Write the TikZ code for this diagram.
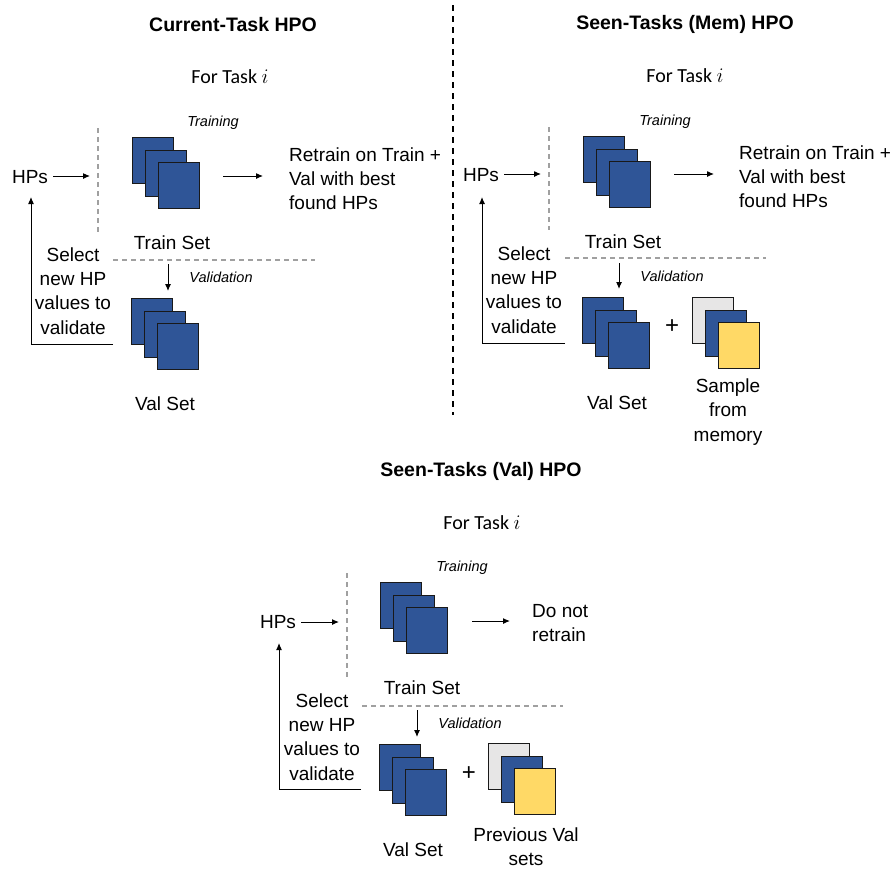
\documentclass[tikz,border=0pt]{standalone}
\usepackage{fontspec}
\setmainfont{Liberation Sans}
\newfontfamily\narrowfont{Carlito}
\usetikzlibrary{arrows.meta,calc}
\definecolor{boxblue}{HTML}{2F5597}
\definecolor{boxgray}{HTML}{E7E6E6}
\definecolor{boxyellow}{HTML}{FFD966}
\definecolor{dashgray}{HTML}{A0A0A0}
\newcommand{\mystack}[6]{%
  \node[sq, fill=#4, anchor=north west] (#1a) at (#2,#3) {};
  \node[sq, fill=#5, anchor=north west] (#1b) at ($(#2,#3)+(13,13)$) {};
  \node[sq, fill=#6, anchor=north west] (#1c) at ($(#2,#3)+(26,25)$) {};
}
\begin{document}
\begin{tikzpicture}[x=1pt,y=-1pt,
  sq/.style={draw=black!90, line width=1pt, minimum width=41.5pt, minimum height=46pt, inner sep=0pt, outer sep=0pt},
  txt/.style={font=\fontsize{19}{24.3}\selectfont, align=center, inner sep=0pt},
  ltxt/.style={font=\fontsize{19}{24}\selectfont, align=left, inner sep=0pt, anchor=west},
  ttl/.style={font=\fontsize{19.5}{22}\selectfont\bfseries, inner sep=0pt},
  fortask/.style={font=\narrowfont\fontsize{20}{22}\selectfont, inner sep=0pt},
  lbl/.style={font=\fontsize{14.5}{16}\selectfont\itshape, inner sep=0pt},
  plus/.style={font=\fontsize{24}{24}\selectfont, inner sep=0pt},
  arr/.style={-{Latex[length=7pt,width=6pt]}, line width=1pt, black},
  gdash/.style={dashgray, line width=1.2pt, dash pattern=on 5pt off 4pt},
  bdash/.style={black, line width=1.3pt, dash pattern=on 6pt off 5pt}
]
\useasboundingbox (0,0) rectangle (893,871);

% separator
\coordinate (sepT) at (453,5);
\coordinate (sepB) at (453,415);
\draw[bdash] (sepT) -- (sepB);

%%%%%%%% Panel 1
\node[ttl] (t1) at (233,25) {Current-Task HPO};
\node[fortask] (f1) at (230,77) {For Task $i$};
\node[txt] (hp1) at (30,177) {HPs};
\coordinate (hp1e) at (90,176);
\draw[arr, shorten <=5pt] (hp1.east |- hp1e) -- (hp1e);
\coordinate (dv1t) at (98,128);
\coordinate (dv1b) at (98,232);
\draw[gdash] (dv1t) -- (dv1b);
\node[lbl] (tr1) at (213,123) {Training};
\mystack{ts1}{132}{137}{boxblue}{boxblue}{boxblue}
\coordinate (ra1s) at (223,176);
\coordinate (ra1e) at (263,176);
\draw[arr] (ra1s) -- (ra1e);
\node[ltxt] (rt1) at (289,179) {Retrain on Train +\\Val with best\\found HPs};
\node[txt] (tsl1) at (172,243) {Train Set};
\coordinate (dh1l) at (113,260);
\coordinate (dh1r) at (315,260);
\draw[gdash] (dh1l) -- (dh1r);
\coordinate (va1s) at (168,264);
\coordinate (va1e) at (168,291);
\draw[arr] (va1s) -- (va1e);
\node[lbl] (vl1) at (221,277) {Validation};
\node[txt] (sel1) at (73,291) {Select\\new HP\\values to\\validate};
\mystack{vs1}{131}{298}{boxblue}{boxblue}{boxblue}
\coordinate (fb1a) at (113,344);
\coordinate (fb1b) at (31,344);
\coordinate (fb1c) at (31,197);
\draw[arr] (fb1a) -- (fb1b) -- (fb1c);
\node[txt] (vsl1) at (165,404) {Val Set};

%%%%%%%% Panel 2
\node[ttl] (t2) at (685,24) {Seen-Tasks (Mem) HPO};
\node[fortask] (f2) at (685,76) {For Task $i$};
\node[txt] (hp2) at (481,175) {HPs};
\coordinate (hp2e) at (541,174);
\draw[arr, shorten <=5pt] (hp2.east |- hp2e) -- (hp2e);
\coordinate (dv2t) at (549,127);
\coordinate (dv2b) at (549,230);
\draw[gdash] (dv2t) -- (dv2b);
\node[lbl] (tr2) at (665,122) {Training};
\mystack{ts2}{583}{136}{boxblue}{boxblue}{boxblue}
\coordinate (ra2s) at (674,174);
\coordinate (ra2e) at (714,174);
\draw[arr] (ra2s) -- (ra2e);
\node[ltxt] (rt2) at (739,177) {Retrain on Train +\\Val with best\\found HPs};
\node[txt] (tsl2) at (623,242) {Train Set};
\coordinate (dh2l) at (565,258);
\coordinate (dh2r) at (766,258);
\draw[gdash] (dh2l) -- (dh2r);
\coordinate (va2s) at (619,263);
\coordinate (va2e) at (619,289);
\draw[arr] (va2s) -- (va2e);
\node[lbl] (vl2) at (672,276) {Validation};
\node[txt] (sel2) at (524,290) {Select\\new HP\\values to\\validate};
\mystack{vs2}{582}{297}{boxblue}{boxblue}{boxblue}
\node[plus] (pl2) at (672,327) {+};
\mystack{ms2}{692}{297}{boxgray}{boxblue}{boxyellow}
\coordinate (fb2a) at (565,343);
\coordinate (fb2b) at (482,343);
\coordinate (fb2c) at (482,197);
\draw[arr] (fb2a) -- (fb2b) -- (fb2c);
\node[txt] (vsl2) at (617,403) {Val Set};
\node[txt] (msl2) at (728,412) {Sample\\from\\memory};

%%%%%%%% Panel 3
\node[ttl] (t3) at (481,471) {Seen-Tasks (Val) HPO};
\node[fortask] (f3) at (482,523) {For Task $i$};
\node[txt] (hp3) at (278,622) {HPs};
\coordinate (hp3e) at (339,622);
\draw[arr, shorten <=5pt] (hp3.east |- hp3e) -- (hp3e);
\coordinate (dv3t) at (347,573);
\coordinate (dv3b) at (347,677);
\draw[gdash] (dv3t) -- (dv3b);
\node[lbl] (tr3) at (462,568) {Training};
\mystack{ts3}{380}{582}{boxblue}{boxblue}{boxblue}
\coordinate (ra3s) at (472,621);
\coordinate (ra3e) at (510,621);
\draw[arr] (ra3s) -- (ra3e);
\node[ltxt] (rt3) at (532,623) {Do not\\retrain};
\node[txt] (tsl3) at (422,688) {Train Set};
\coordinate (dh3l) at (362,706);
\coordinate (dh3r) at (563,706);
\draw[gdash] (dh3l) -- (dh3r);
\coordinate (va3s) at (417,710);
\coordinate (va3e) at (417,737);
\draw[arr] (va3s) -- (va3e);
\node[lbl] (vl3) at (470,723) {Validation};
\node[txt] (sel3) at (322,737) {Select\\new HP\\values to\\validate};
\mystack{vs3}{379}{744}{boxblue}{boxblue}{boxblue}
\node[plus] (pl3) at (469,774) {+};
\mystack{ps3}{488}{743}{boxgray}{boxblue}{boxyellow}
\coordinate (fb3a) at (361,789);
\coordinate (fb3b) at (279,789);
\coordinate (fb3c) at (279,643);
\draw[arr] (fb3a) -- (fb3b) -- (fb3c);
\node[txt] (vsl3) at (413,850) {Val Set};
\node[txt] (psl3) at (526,847) {Previous Val\\sets};
\end{tikzpicture}
\end{document}
